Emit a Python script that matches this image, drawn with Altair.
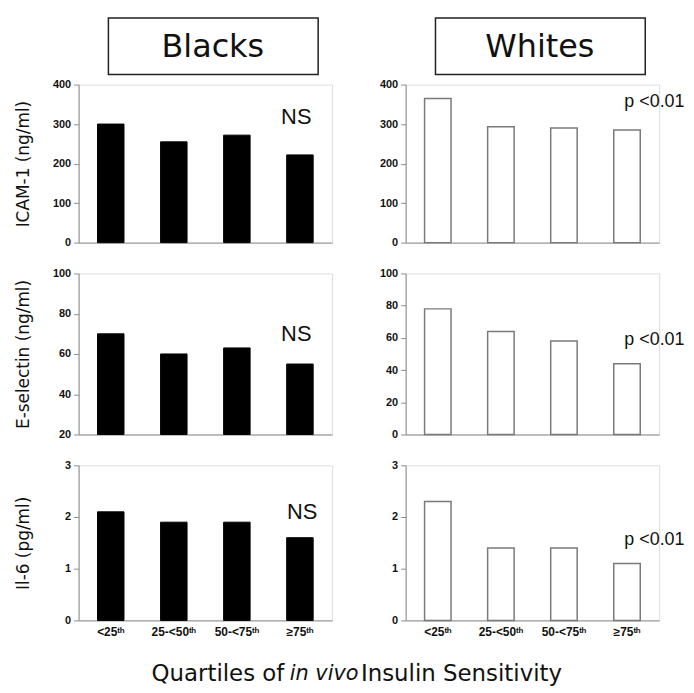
import altair as alt
import pandas as pd

categories = ["<25ᵗʰ", "25-<50ᵗʰ", "50-<75ᵗʰ", "≥75ᵗʰ"]
icam_blacks = [300, 255, 272, 222]
icam_whites = [365, 293, 290, 285]
esel_blacks = [70, 60, 63, 55]
esel_whites = [78, 64, 58, 44]
il6_blacks = [2.1, 1.9, 1.9, 1.6]
il6_whites = [2.3, 1.4, 1.4, 1.1]

groups = ["Blacks", "Whites"]
y_titles = ["ICAM-1 (ng/ml)", "E-selectin (ng/ml)", "Il-6 (pg/ml)"]
notes = ["NS", "p <0.01"]
x_title_parts = ["Quartiles of", "in vivo", "Insulin Sensitivity"]

W = 255
HEIGHTS = [159, 162, 156]
AXIS_GRAY = "#8c8c8c"
LABEL_FONT = "Liberation Sans"
TEXT_FONT = "DejaVu Sans"


def panel(values, domain, ticks, base, col, row, note_xy):
    df = pd.DataFrame({"q": categories, "v": values})
    bottom = row == 2
    x = alt.X(
        "q:N",
        sort=categories,
        scale=alt.Scale(paddingInner=0.58, paddingOuter=0.3),
        axis=alt.Axis(
            title=None,
            labels=bottom,
            ticks=False,
            domainColor=AXIS_GRAY,
            labelAngle=0,
            labelFont=LABEL_FONT,
            labelFontWeight="bold",
            labelFontSize=12,
            labelColor="#111111",
            labelPadding=6,
        ),
    )
    axis_kw = dict(
        values=ticks,
        grid=False,
        domainColor=AXIS_GRAY,
        tickColor=AXIS_GRAY,
        tickSize=5,
        labelFont=LABEL_FONT,
        labelFontWeight="bold",
        labelFontSize=11,
        labelColor="#111111",
        labelPadding=3,
    )
    if col == 0:
        axis_kw.update(
            title=y_titles[row],
            titleFont=TEXT_FONT,
            titleFontSize=17,
            titleFontWeight="normal",
            titleColor="#111111",
            titleX=-55,
            titleBaseline="middle",
        )
    else:
        axis_kw.update(title=None)
    y = alt.Y(
        "v:Q",
        scale=alt.Scale(domain=domain, nice=False, zero=False),
        axis=alt.Axis(**axis_kw),
    )
    if col == 0:
        bar = alt.Chart(df).mark_bar(fill="black", stroke="black", strokeWidth=1)
    else:
        bar = alt.Chart(df).mark_bar(fill="white", stroke="#7a7a7a", strokeWidth=1.5)
    bars = bar.encode(x=x, y=y, y2=alt.datum(base))

    layers = [bars]
    nx, ny = note_xy
    note = alt.Chart(pd.DataFrame({"t": [notes[col]]})).mark_text(
        font="Liberation Sans",
        fontSize=18 if col == 1 else 22,
        align="center" if col == 0 else "left",
        baseline="middle",
        color="#111111",
    ).encode(x=alt.value(nx), y=alt.value(ny), text="t:N")
    layers.append(note)

    if row == 0:
        hdr = pd.DataFrame({"t": [groups[col]]})
        box = alt.Chart(hdr).mark_rect(fill="white", stroke="#222222", strokeWidth=1.5).encode(
            x=alt.value(30), x2=alt.value(241), y=alt.value(-67), y2=alt.value(-10)
        )
        txt = alt.Chart(hdr).mark_text(
            font=TEXT_FONT, fontSize=32, color="#111111", baseline="middle"
        ).encode(x=alt.value(135), y=alt.value(-38), text="t:N")
        layers += [box, txt]

    if bottom and col == 0:
        t = pd.DataFrame({"t": x_title_parts})
        base_t = alt.Chart(t)
        p1 = base_t.transform_filter(alt.datum.t == x_title_parts[0]).mark_text(
            font=TEXT_FONT, fontSize=23, align="right", baseline="middle", color="#111111"
        ).encode(x=alt.value(207), y=alt.value(210), text="t:N")
        p2 = base_t.transform_filter(alt.datum.t == x_title_parts[1]).mark_text(
            font=TEXT_FONT, fontSize=21, fontStyle="italic", align="center", baseline="middle", color="#111111"
        ).encode(x=alt.value(247), y=alt.value(210), text="t:N")
        p3 = base_t.transform_filter(alt.datum.t == x_title_parts[2]).mark_text(
            font=TEXT_FONT, fontSize=23, align="left", baseline="middle", color="#111111"
        ).encode(x=alt.value(284), y=alt.value(210), text="t:N")
        layers += [p1, p2, p3]

    return alt.layer(*layers).properties(width=W, height=HEIGHTS[row])


panels = [
    panel(icam_blacks, [0, 400], [0, 100, 200, 300, 400], 0, 0, 0, (219, 33)),
    panel(icam_whites, [0, 400], [0, 100, 200, 300, 400], 0, 1, 0, (220, 18)),
    panel(esel_blacks, [20, 100], [20, 40, 60, 80, 100], 20, 0, 1, (219, 61)),
    panel(esel_whites, [0, 100], [0, 20, 40, 60, 80, 100], 0, 1, 1, (220, 67)),
    panel(il6_blacks, [0, 3], [0, 1, 2, 3], 0, 0, 2, (225, 47)),
    panel(il6_whites, [0, 3], [0, 1, 2, 3], 0, 1, 2, (220, 75)),
]

chart = alt.concat(
    *panels,
    columns=2,
    spacing={"row": 31, "column": 74},
    bounds="flush",
    align="each",
).properties(
    padding={"left": 6, "top": 6, "right": 0, "bottom": 0}
).configure_view(stroke=None).configure(background="white")

chart.save("out.html", embed_options={"renderer": "svg", "actions": False})
